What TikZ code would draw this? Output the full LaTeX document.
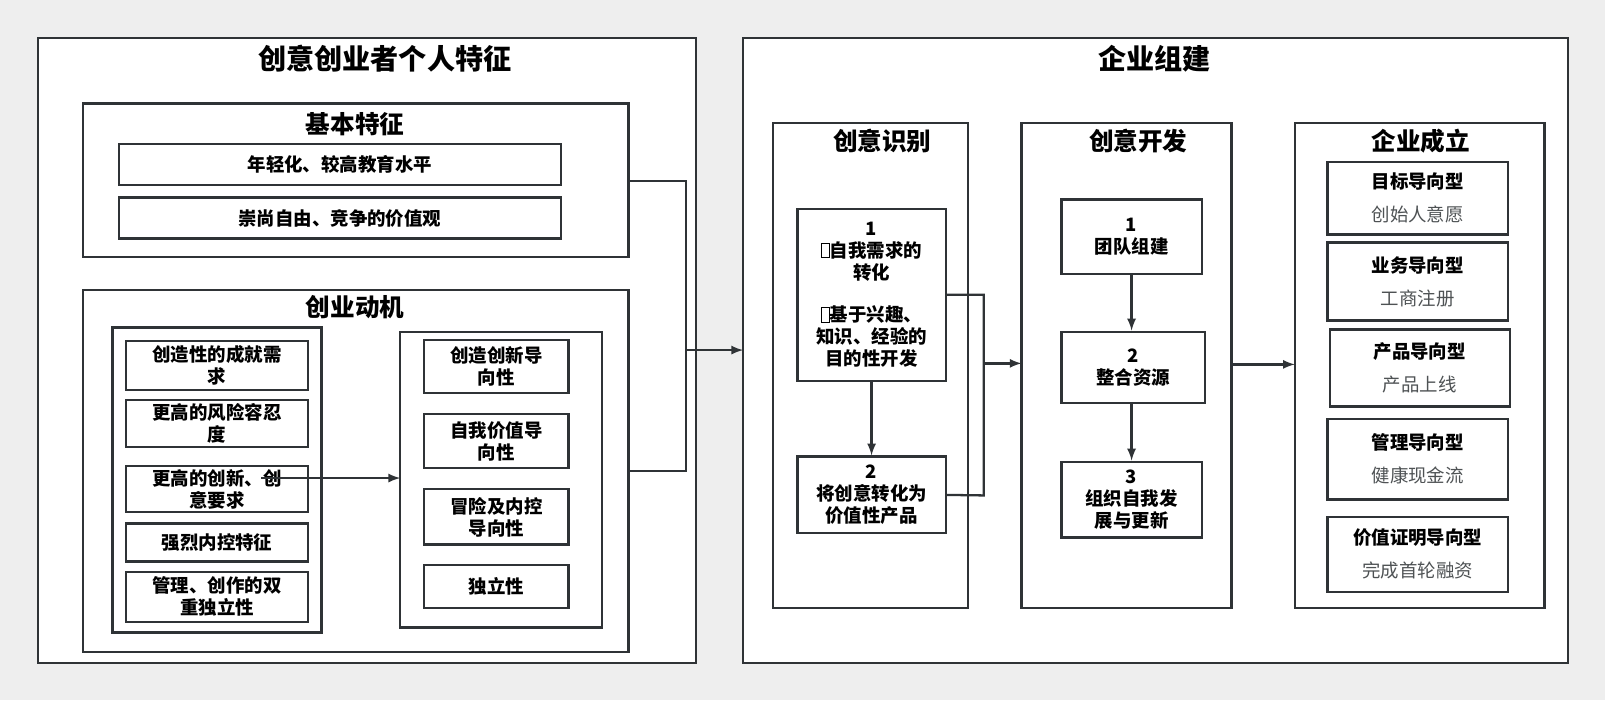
\documentclass[tikz,border=0pt]{standalone}
\usepackage{fontspec}
\setmainfont{Noto Sans CJK SC}
\usetikzlibrary{positioning}
\definecolor{edge}{HTML}{2F3336}
\definecolor{pagebg}{HTML}{EEEEEE}
\newcommand{\nochar}{{\setlength\fboxsep{0pt}\setlength\fboxrule{0.4pt}\fbox{\rule{0pt}{0.75em}\hspace{0.4em}}}}
\tikzset{
  frame/.style={draw=edge,line width=1.3pt,fill=white},
  item/.style={frame,align=center,font=\bfseries\fontsize{10.5}{12.5}\selectfont,inner sep=0pt},
  head/.style={font=\bfseries\fontsize{16}{18}\selectfont},
  sub/.style={font=\bfseries\fontsize{14}{16}\selectfont},
  link/.style={draw=edge,line width=1.3pt},
}
\begin{document}
\begin{tikzpicture}[x=0.02047cm,y=-0.02047cm]
 	\fill[pagebg] (0,0) rectangle (1568,684);
 	\useasboundingbox (0,0) rectangle (1568,684);
 	% left part
 	\draw[frame] (37,37) rectangle (680,648);
 	\node[head] (lefttitle) at (376,57) {创意创业者个人特征};
 	\draw[frame] (81,101) rectangle (614,251);
 	\node[sub] (basic) at (347,121) {基本特征};
 	\node[item,minimum width=432*0.02047cm,minimum height=40*0.02047cm] (b1) at (332,161) {年轻化、较高教育水平};
 	\node[item,minimum width=432*0.02047cm,minimum height=40*0.02047cm] (b2) at (332,213) {崇尚自由、竞争的价值观};
 	\draw[frame] (81,283) rectangle (614,637);
 	\node[sub] (motive) at (347,300) {创业动机};
 	\draw[frame] (110,320) rectangle (314,618);
 	\draw[frame] (391,324) rectangle (588,613);
 	\foreach \name/\cy/\h/\txt in {m1/357/48/{创造性的成就需\\求}, m2/414/46/{更高的风险容忍\\度},
 	    m3/478/45/{更高的创新、创\\意要求}, m4/530/37/{强烈内控特征}, m5/583/49/{管理、创作的双\\重独立性}}
 	  \node[item,minimum width=178*0.02047cm,minimum height=\h*0.02047cm] (\name) at (212,\cy) {\txt};
 	\foreach \name/\cy/\h/\txt in {o1/358/52/{创造创新导\\向性}, o2/431/53/{自我价值导\\向性},
 	    o3/505/54/{冒险及内控\\导向性}, o4/573/42/{独立性}}
 	  \node[item,minimum width=141*0.02047cm,minimum height=\h*0.02047cm] (\name) at (485,\cy) {\txt};
 	\coordinate (mstart) at (255,467);
 	\draw[link,-latex] (mstart) -- (391,467);
 	\coordinate (lb1) at (614,177);
 	\coordinate (lb2) at (614,460);
 	\draw[link] (lb1) -- (670,177) -- (670,460) -- (lb2);
 	\coordinate (lmid) at (670,342);
 	% right part
 	\draw[frame] (726,37) rectangle (1532,648);
 	\node[head] (righttitle) at (1128,57) {企业组建};
 	\draw[link,-latex] (lmid) -- (726,342);
 	% column 1
 	\draw[frame] (755,120) rectangle (946,594);
 	\node[sub] (c1title) at (862,138) {创意识别};
 	\node[item,minimum width=145*0.02047cm,minimum height=168*0.02047cm] (i1) at (851.5,288)
 	  {1\\\nochar 自我需求的\\转化\\[1.1em]\nochar 基于兴趣、\\知识、经验的\\目的性开发};
 	\node[item,minimum width=145*0.02047cm,minimum height=75*0.02047cm] (i2) at (851.5,483.5)
 	  {2\\将创意转化为\\价值性产品};
 	\draw[link,-latex] (i1) -- (i2);
 	\draw[link] (i1.east) -- (961,288) -- (961,484) -- (i2.east);
 	\draw[link,-latex] (961,355) -- (998,355);
 	% column 2
 	\draw[frame] (998,120) rectangle (1203,594);
 	\node[sub] (c2title) at (1112,138) {创意开发};
 	\node[item,minimum width=137*0.02047cm,minimum height=73*0.02047cm] (d1) at (1105.5,231.5) {1\\团队组建};
 	\node[item,minimum width=140*0.02047cm,minimum height=70*0.02047cm] (d2) at (1107,359) {2\\整合资源};
 	\node[item,minimum width=137*0.02047cm,minimum height=74*0.02047cm] (d3) at (1105.5,488) {3\\组织自我发\\展与更新};
 	\draw[link,-latex] (d1) -- (d1|-d2.north);
 	\draw[link,-latex] (d2.south-|d3) -- (d3);
 	\draw[link,-latex] (1203,356) -- (1265,356);
 	% column 3
 	\draw[frame] (1265,120) rectangle (1509,594);
 	\node[sub] (c3title) at (1388,138) {企业成立};
 	\foreach \name/\x/\cy/\h/\ttl/\txt in {e1/1385/193.5/71/目标导向型/创始人意愿, e2/1385/275/76/业务导向型/工商注册,
 	    e3/1387/359.5/75/产品导向型/产品上线, e4/1385/448.5/79/管理导向型/健康现金流, e5/1385/541.5/73/价值证明导向型/完成首轮融资}
 	  \node[item,minimum width=176*0.02047cm,minimum height=\h*0.02047cm] (\name) at (\x,\cy)
 	    {\ttl\\[0.6em]{\mdseries\fontsize{10.5}{12.5}\selectfont\color{edge!85}\txt}};
\end{tikzpicture}
\end{document}
